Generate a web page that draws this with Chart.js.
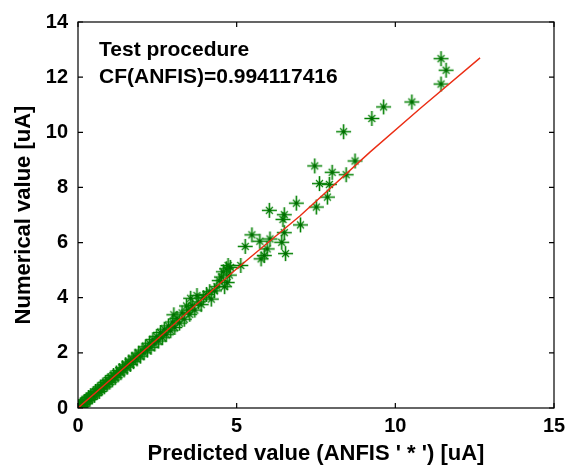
<!DOCTYPE html>
<html>
<head>
<meta charset="utf-8">
<script src="https://cdn.jsdelivr.net/npm/chart.js@4"></script>
<style>
  html, body { margin: 0; padding: 0; background: #fff; }
  #wrap { width: 572px; height: 470px; }
</style>
</head>
<body>
<div id="wrap"><canvas id="scatterChart"></canvas></div>
<script>
// predicted (ANFIS) vs numerical values
const predicted = [
  0.02, 0.05, 0.08, 0.1, 0.13, 0.16, 0.2, 0.23, 0.26, 0.3, 0.33, 0.37, 0.4, 0.44, 0.48, 0.52,
  0.55, 0.6, 0.63, 0.67, 0.71, 0.75, 0.79, 0.83, 0.87, 0.91, 0.95, 1.0, 1.04, 1.08, 1.12, 1.17,
  1.21, 1.26, 1.3, 1.35, 1.4, 1.45, 1.5, 1.55, 1.6, 1.65, 1.7, 1.75, 1.8, 1.86, 1.91, 1.97,
  2.02, 2.08, 2.13, 2.19, 2.25, 2.3, 2.36, 2.42, 2.48, 2.54, 2.6, 2.66, 2.72, 2.78, 2.85, 2.92,
  2.98, 3.02, 3.05, 3.12, 3.2, 3.28, 3.35, 3.42, 3.48, 3.55, 3.52, 3.6, 3.68, 3.75, 3.8, 3.88,
  3.95, 4.05, 4.15, 4.2, 4.3, 4.38, 4.45, 4.52, 4.58, 4.62, 4.68, 4.73, 4.77, 4.7, 4.8, 5.13,
  5.27, 5.48, 5.73, 5.77, 5.87, 5.96, 6.03, 6.05, 6.42, 6.46, 6.5, 6.5, 6.54, 6.88, 7.01, 7.46,
  7.51, 7.61, 7.86, 7.92, 8.01, 8.37, 8.45, 8.73, 9.26, 9.63, 10.52, 11.44, 11.6, 11.44
];
const numerical = [
  0.05, 0.02, 0.12, 0.07, 0.18, 0.12, 0.24, 0.17, 0.3, 0.26, 0.38, 0.31, 0.45, 0.4, 0.52, 0.46,
  0.6, 0.56, 0.68, 0.6, 0.76, 0.7, 0.84, 0.77, 0.93, 0.86, 1.0, 0.94, 1.1, 1.02, 1.18, 1.1,
  1.27, 1.2, 1.36, 1.28, 1.46, 1.38, 1.57, 1.48, 1.67, 1.58, 1.77, 1.68, 1.88, 1.78, 1.99, 1.88,
  2.1, 2.0, 2.22, 2.1, 2.35, 2.2, 2.48, 2.32, 2.6, 2.43, 2.74, 2.55, 2.86, 2.66, 2.98, 2.8,
  3.12, 3.38, 2.92, 3.25, 3.08, 3.45, 3.22, 3.7, 3.55, 3.98, 3.4, 3.72, 3.55, 4.08, 3.85, 3.75,
  4.0, 4.12, 4.22, 3.95, 4.25, 4.4, 4.62, 4.75, 4.94, 4.4, 5.05, 5.17, 4.82, 4.55, 5.1, 5.17,
  5.86, 6.28, 6.05, 5.41, 5.53, 5.77, 7.17, 6.13, 6.01, 6.84, 7.01, 6.36, 5.6, 7.43, 6.64, 8.78,
  7.29, 8.14, 7.65, 8.11, 8.55, 10.02, 8.46, 8.96, 10.5, 10.92, 11.1, 12.67, 12.25, 11.75
];
// fitted red line
const lineX = [0, 2.5, 5, 7, 9.2, 10.8, 12.67];
const lineY = [0, 2.5, 5.05, 6.97, 9.28, 10.88, 12.7];

const xTicks = [0, 5, 10, 15];
const yTicks = [0, 2, 4, 6, 8, 10, 12, 14];

// matlab-like asterisk marker
function makeStar() {
  const c = document.createElement("canvas");
  c.width = 17;
  c.height = 17;
  const g = c.getContext("2d");
  g.strokeStyle = "rgb(0,128,0)";
  g.lineWidth = 1.6;
  g.beginPath();
  g.moveTo(1, 8.5); g.lineTo(16, 8.5);
  g.moveTo(8.5, 1); g.lineTo(8.5, 16);
  g.stroke();
  g.lineWidth = 1.2;
  g.beginPath();
  g.moveTo(5, 5); g.lineTo(12, 12);
  g.moveTo(12, 5); g.lineTo(5, 12);
  g.stroke();
  g.fillStyle = "rgb(0,110,0)";
  g.beginPath();
  g.arc(8.5, 8.5, 2, 0, Math.PI * 2);
  g.fill();
  return c;
}

const boxPlugin = {
  id: "matlabBox",
  afterDatasetsDraw(chart) {
    const { ctx, chartArea: a, scales } = chart;
    ctx.save();
    ctx.strokeStyle = "#000";
    ctx.lineWidth = 1.2;
    ctx.strokeRect(a.left, a.top, a.right - a.left, a.bottom - a.top);
    ctx.beginPath();
    xTicks.forEach((v) => {
      const x = scales.x.getPixelForValue(v);
      ctx.moveTo(x, a.bottom); ctx.lineTo(x, a.bottom - 5);
      ctx.moveTo(x, a.top); ctx.lineTo(x, a.top + 5);
    });
    yTicks.forEach((v) => {
      const y = scales.y.getPixelForValue(v);
      ctx.moveTo(a.left, y); ctx.lineTo(a.left + 5, y);
      ctx.moveTo(a.right, y); ctx.lineTo(a.right - 5, y);
    });
    ctx.stroke();

    ctx.fillStyle = "#000";
    ctx.font = "bold 21px 'Liberation Sans', Arial, sans-serif";
    ctx.textBaseline = "alphabetic";
    ctx.fillText("Test procedure", a.left + 21, a.top + 34);
    ctx.fillText("CF(ANFIS)=0.994117416", a.left + 21, a.top + 61);
    ctx.restore();
  },
};

const tickFont = { family: "'Liberation Sans', Arial, sans-serif", size: 20, weight: "bold" };
const titleFont = { family: "'Liberation Sans', Arial, sans-serif", size: 22, weight: "bold" };

const ctx = document.getElementById("scatterChart").getContext("2d");
const chart = new Chart(ctx, {
  type: "scatter",
  data: {
    datasets: [
      {
        label: "fit",
        data: lineX.map((x, i) => ({ x: x, y: lineY[i] })),
        showLine: true,
        borderColor: "rgb(235,45,20)",
        borderWidth: 1.4,
        pointRadius: 0,
        order: 0,
      },
      {
        label: "ANFIS",
        data: predicted.map((x, i) => ({ x: x, y: numerical[i] })),
        pointStyle: makeStar(),
        pointRadius: 8,
        order: 1,
      },
    ],
  },
  options: {
    responsive: true,
    maintainAspectRatio: false,
    animation: false,
    layout: { padding: { left: 0, right: 18, top: 16, bottom: 0 } },
    plugins: {
      legend: { display: false },
      tooltip: { enabled: false },
    },
    scales: {
      x: {
        type: "linear",
        min: 0,
        max: 15,
        grid: { display: false, drawTicks: false },
        border: { display: false },
        ticks: { stepSize: 5, color: "#000", font: tickFont, padding: 6, maxRotation: 0 },
        title: {
          display: true,
          text: "Predicted value (ANFIS ' * ') [uA]",
          color: "#000",
          font: titleFont,
          padding: { top: 0, bottom: 3 },
        },
        afterFit(scale) {
          scale.height = 62;
        },
      },
      y: {
        type: "linear",
        min: 0,
        max: 14,
        grid: { display: false, drawTicks: false },
        border: { display: false },
        ticks: { stepSize: 2, color: "#000", font: tickFont, padding: 10 },
        title: {
          display: true,
          text: "Numerical value [uA]",
          color: "#000",
          font: titleFont,
          padding: { top: 11, bottom: 0 },
        },
        afterFit(scale) {
          scale.width = 78;
        },
      },
    },
  },
  plugins: [boxPlugin],
});
</script>
</body>
</html>
